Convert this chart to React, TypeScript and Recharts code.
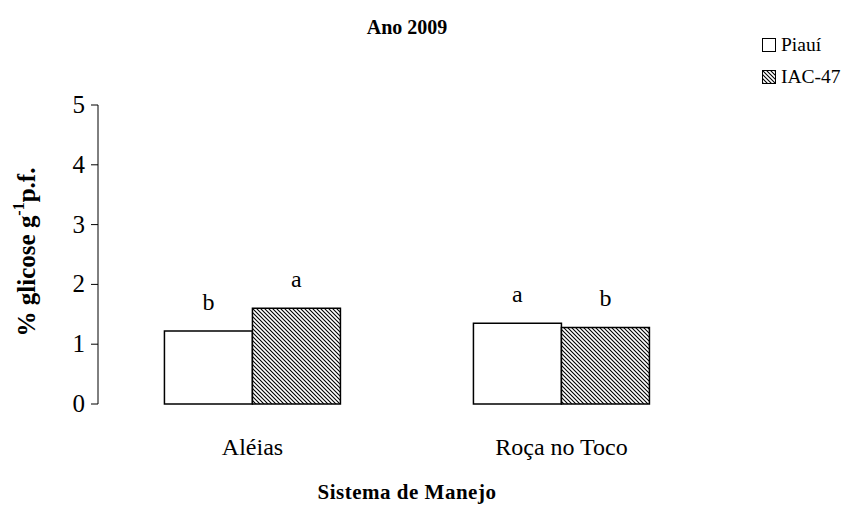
import { BarChart, Bar, XAxis, YAxis, LabelList } from "recharts";

const categories = ["Aléias", "Roça no Toco"];
const piaui = [1.22, 1.35];
const iac47 = [1.6, 1.28];
const piauiLetters = ["b", "a"];
const iacLetters = ["a", "b"];
const yTicks = [0, 1, 2, 3, 4, 5];

const data = categories.map((name, i) => ({
  name,
  piaui: piaui[i],
  iac: iac47[i],
  piauiL: piauiLetters[i],
  iacL: iacLetters[i],
}));

const FONT = "'Liberation Serif', 'Times New Roman', serif";

function YLabel() {
  return (
    <text
      transform="translate(35,252) rotate(-90)"
      textAnchor="middle"
      fontFamily={FONT}
      fontWeight="bold"
      fontSize={25}
      fill="#000"
    >
      % glicose g
      <tspan dy={-11} fontSize={16}>-1</tspan>
      <tspan dy={11}>p.f.</tspan>
    </text>
  );
}

function YTick(props: any) {
  const { x, y, payload } = props;
  return (
    <text x={x} y={y} dy={8} textAnchor="end" fontFamily={FONT} fontSize={25} fill="#000">
      {payload.value}
    </text>
  );
}

function XTick(props: any) {
  const { x, y, payload } = props;
  return (
    <text x={x} y={y} dy={43} textAnchor="middle" fontFamily={FONT} fontSize={24} fill="#000">
      {payload.value}
    </text>
  );
}

function Letter(props: any) {
  const { x, y, width, value } = props;
  return (
    <text x={x + width / 2} y={y - 21} textAnchor="middle" fontFamily={FONT} fontSize={24} fill="#000">
      {value}
    </text>
  );
}

export default function App() {
  return (
    <div style={{ position: "absolute", left: 0, top: 0, width: 841, height: 510, background: "#fff", fontFamily: FONT, overflow: "hidden" }}>
      <BarChart
        width={841}
        height={510}
        data={data}
        margin={{ top: 105, right: 125, bottom: 56, left: 38 }}
        barCategoryGap="21.5%"
        barGap={0}
      >
        <defs>
          <pattern id="hatch" width="4" height="4" patternUnits="userSpaceOnUse">
            <rect width="4" height="4" fill="#fff" />
            <path d="M0,0 L4,4 M-1,3 L1,5 M3,-1 L5,1" stroke="#000" strokeWidth={1.1} />
          </pattern>
        </defs>
        <XAxis
          xAxisId="grid"
          type="number"
          domain={[0, 2]}
          ticks={[0, 1, 2]}
          height={0}
          tick={false}
          tickSize={7}
          stroke="#808080"
          allowDataOverflow
        />
        <XAxis
          xAxisId="cat"
          dataKey="name"
          height={50}
          axisLine={false}
          tickLine={false}
          tick={<XTick />}
        />
        <YAxis
          domain={[0, 5]}
          ticks={yTicks}
          width={60}
          stroke="#000"
          tickSize={7}
          tick={<YTick />}
          tickMargin={6}
          label={<YLabel />}
        />
        <Bar xAxisId="cat" dataKey="piaui" fill="#fff" stroke="#000" strokeWidth={1.5} isAnimationActive={false}>
          <LabelList dataKey="piauiL" content={<Letter />} />
        </Bar>
        <Bar xAxisId="cat" dataKey="iac" fill="url(#hatch)" stroke="#000" strokeWidth={1.5} isAnimationActive={false}>
          <LabelList dataKey="iacL" content={<Letter />} />
        </Bar>
      </BarChart>
      <div style={{ position: "absolute", left: 0, width: 814, top: 16, textAlign: "center", fontWeight: "bold", fontSize: 20, fontFamily: FONT }}>
        Ano 2009
      </div>
      <div style={{ position: "absolute", left: 0, width: 814, top: 480, textAlign: "center", fontWeight: "bold", fontSize: 21, letterSpacing: 0.5, fontFamily: FONT }}>
        Sistema de Manejo
      </div>
      <div style={{ position: "absolute", left: 762, top: 29, fontSize: 19.5, lineHeight: "32px", whiteSpace: "nowrap", width: 79, fontFamily: FONT }}>
        <div style={{ display: "flex", alignItems: "center" }}>
          <svg width={14} height={14} style={{ marginRight: 5, flexShrink: 0 }}>
            <rect x={0.5} y={0.5} width={13} height={13} fill="#fff" stroke="#000" />
          </svg>
          Piauí
        </div>
        <div style={{ display: "flex", alignItems: "center" }}>
          <svg width={14} height={14} style={{ marginRight: 5, flexShrink: 0 }}>
            <rect x={0.5} y={0.5} width={13} height={13} fill="url(#hatch)" stroke="#000" />
          </svg>
          IAC-47
        </div>
      </div>
    </div>
  );
}
